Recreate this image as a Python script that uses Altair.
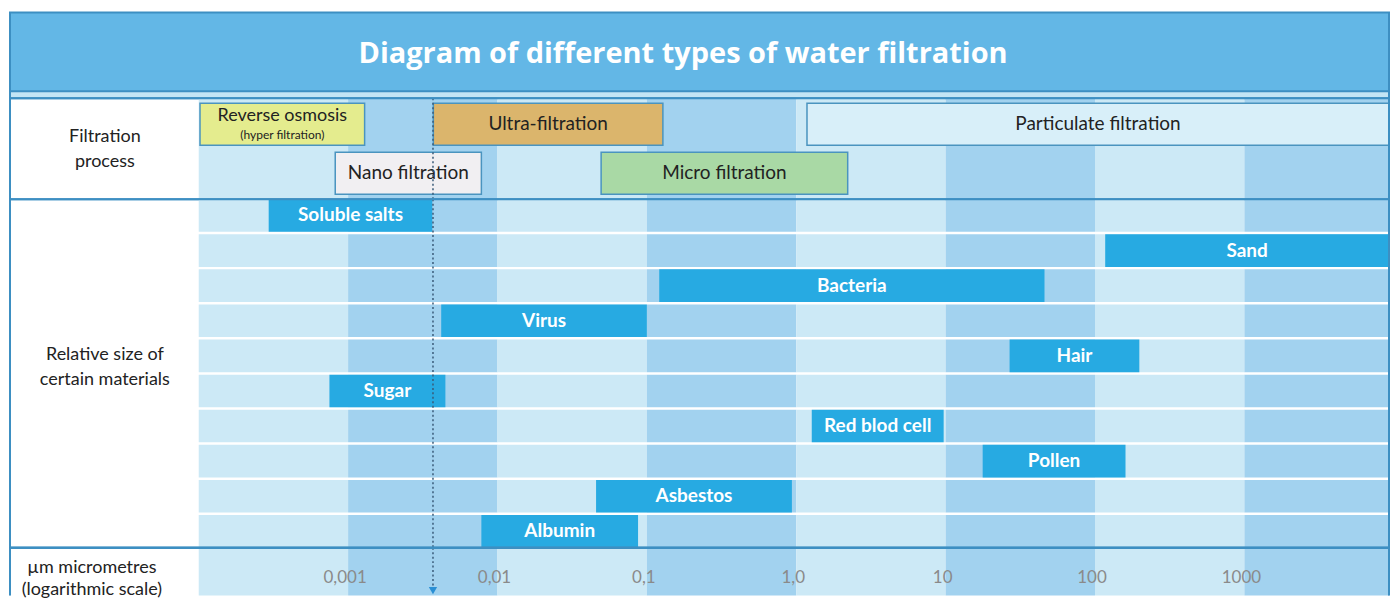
import altair as alt
import pandas as pd

# ---------------- data ----------------
title_text = "Diagram of different types of water filtration"

materials = ["Soluble salts", "Sand", "Bacteria", "Virus", "Hair", "Sugar",
             "Red blod cell", "Pollen", "Asbestos", "Albumin"]
mat_start = [0.000294, 117, 0.121, 0.0042, 26.8, 0.00075, 1.27, 17.7, 0.0457, 0.0078]
mat_end = [0.00366, 9290, 45.9, 0.1, 198, 0.00448, 9.7, 160, 0.935, 0.0873]

processes = ["Reverse osmosis", "Ultra-filtration", "Particulate filtration",
             "Nano filtration", "Micro filtration"]
proc_sub = ["(hyper filtration)", "", "", "", ""]
proc_row = ["1", "1", "1", "2", "2"]
proc_start = [0.000102, 0.00372, 1.18, 0.00082, 0.0494]
proc_end = [0.00129, 0.128, 9290, 0.0078, 2.21]

decade_start = [1e-4, 1e-3, 1e-2, 0.1, 1, 10, 100, 1000]
decade_end = [1e-3, 1e-2, 0.1, 1, 10, 100, 1000, 9290]
decade_shade = ["light", "dark", "light", "dark", "light", "dark", "light", "dark"]

tick_values = [0.001, 0.01, 0.1, 1, 10, 100, 1000]
tick_labels = ["0,001", "0,01", "0,1", "1,0", "10", "100", "1000"]

marker_values = [0.0037]

left_labels_process = ["Filtration", "process"]
left_labels_materials = ["Relative size of", "certain materials"]
left_labels_axis = ["\u00b5m micrometres", "(logarithmic scale)"]

# ---------------- styles ----------------
W = 1192
LEFT = -189
BORDER = "#3d8fc2"
BANNER = "#63b7e6"
STRIP = "#c3e5f5"
LIGHT = "#cce9f6"
DARK = "#a2d2ef"
BAR = "#27aae2"
PROC_COLORS = ["#e4ec8e", "#dbb56c", "#d8eff9", "#f1eff2", "#a9d9a5"]
FONT = "Lato"

H_BANNER, H_PROC, H_MAT, H_AXIS = 86, 101, 349, 48

xscale = alt.Scale(type="log", domain=[1e-4, 9290], nice=False)
shade_scale = alt.Scale(domain=["light", "dark"], range=[LIGHT, DARK])

one = alt.Data(values=[{}])

dec_df = pd.DataFrame({"start": decade_start, "end": decade_end, "shade": decade_shade})
mat_df = pd.DataFrame({"material": materials, "start": mat_start, "end": mat_end})
proc_df = pd.DataFrame({"process": processes, "sub": proc_sub, "row": proc_row,
                        "start": proc_start, "end": proc_end})
tick_df = pd.DataFrame({"value": tick_values, "label": tick_labels})
marker_df = pd.DataFrame({"value": marker_values})
cells_df = pd.DataFrame([
    {"material": m, "start": s, "end": e, "shade": sh}
    for m in materials
    for s, e, sh in zip(decade_start, decade_end, decade_shade)
])


def frame(h, bottom=True):
    if bottom:
        return alt.Chart(one).mark_rect(fill="transparent", stroke=BORDER, strokeWidth=2).encode(
            x=alt.value(LEFT), x2=alt.value(W), y=alt.value(0), y2=alt.value(h))
    left = alt.Chart(one).mark_rule(color=BORDER, strokeWidth=2).encode(
        x=alt.value(LEFT), y=alt.value(0), y2=alt.value(h))
    right = alt.Chart(one).mark_rule(color=BORDER, strokeWidth=2).encode(
        x=alt.value(W), y=alt.value(0), y2=alt.value(h))
    top = alt.Chart(one).mark_rule(color=BORDER, strokeWidth=2.5).encode(
        x=alt.value(LEFT), x2=alt.value(W), y=alt.value(0))
    return alt.layer(left, right, top)


def columns(h):
    return alt.Chart(dec_df).mark_rect().encode(
        x=alt.X("start:Q", scale=xscale, axis=None),
        x2="end:Q",
        y=alt.value(0), y2=alt.value(h),
        color=alt.Color("shade:N", scale=shade_scale, legend=None))


def marker(h, y2=None):
    return alt.Chart(marker_df).mark_rule(color="#3a5a78", strokeWidth=1.5, strokeDash=[2, 2.5]).encode(
        x=alt.X("value:Q", scale=xscale, axis=None),
        y=alt.value(0), y2=alt.value(h if y2 is None else y2))


def left_label(lines, y, x=-94, lh=25):
    return alt.Chart(one).mark_text(font=FONT, fontSize=18, color="#222222", align="center",
                                    baseline="middle", lineHeight=lh).encode(
        x=alt.value(x), y=alt.value(y), text=alt.value(lines))


# ---------------- banner ----------------
banner = alt.layer(
    alt.Chart(one).mark_rect(fill=BANNER).encode(
        x=alt.value(LEFT), x2=alt.value(W), y=alt.value(0), y2=alt.value(79)),
    alt.Chart(one).mark_rect(fill=STRIP).encode(
        x=alt.value(LEFT), x2=alt.value(W), y=alt.value(79), y2=alt.value(H_BANNER)),
    alt.Chart(one).mark_rule(color=BORDER, strokeWidth=2).encode(
        x=alt.value(LEFT), x2=alt.value(W), y=alt.value(79)),
    alt.Chart(one).mark_text(font="Open Sans", fontWeight="bold", fontSize=29, color="white",
                             align="center", baseline="middle").encode(
        x=alt.value(485), y=alt.value(42), text=alt.value(title_text)),
    frame(H_BANNER),
).properties(width=W, height=H_BANNER)

# ---------------- filtration process ----------------
row_y = alt.Y("row:N", scale=alt.Scale(domain=["1", "2"], paddingInner=0.14, paddingOuter=0.1), axis=None)
proc_base = alt.Chart(proc_df).transform_calculate(mid="sqrt(datum.start * datum.end)")

boxes = alt.Chart(proc_df).mark_rect(stroke="#4a94bf", strokeWidth=1.5).encode(
    x=alt.X("start:Q", scale=xscale, axis=None),
    x2="end:Q",
    y=row_y,
    fill=alt.Fill("process:N", scale=alt.Scale(domain=processes, range=PROC_COLORS), legend=None))

proc_text = proc_base.transform_filter("datum.sub == ''").mark_text(
    font=FONT, fontSize=19, color="#222222", baseline="middle").encode(
    x=alt.X("mid:Q", scale=xscale, axis=None), y=row_y, text="process:N")
proc_text2 = proc_base.transform_filter("datum.sub != ''").mark_text(
    font=FONT, fontSize=18, color="#222222", baseline="middle", dy=-8).encode(
    x=alt.X("mid:Q", scale=xscale, axis=None), y=row_y, text="process:N")
proc_sub_text = proc_base.transform_filter("datum.sub != ''").mark_text(
    font=FONT, fontSize=12, color="#222222", baseline="middle", dy=11).encode(
    x=alt.X("mid:Q", scale=xscale, axis=None), y=row_y, text="sub:N")

process = alt.layer(
    columns(H_PROC), boxes, proc_text, proc_text2, proc_sub_text, marker(H_PROC),
    left_label(left_labels_process, 39), frame(H_PROC),
).properties(width=W, height=H_PROC).resolve_scale(color="independent", fill="independent")

# ---------------- materials ----------------
mat_y = alt.Y("material:N", sort=materials,
              scale=alt.Scale(domain=materials, paddingInner=0.07, paddingOuter=0), axis=None)

cells = alt.Chart(cells_df).mark_rect().encode(
    x=alt.X("start:Q", scale=xscale, axis=None), x2="end:Q", y=mat_y,
    color=alt.Color("shade:N", scale=shade_scale, legend=None))
bars = alt.Chart(mat_df).mark_rect(color=BAR).encode(
    x=alt.X("start:Q", scale=xscale, axis=None), x2="end:Q", y=mat_y)
bar_text = alt.Chart(mat_df).transform_calculate(mid="sqrt(datum.start * datum.end)").mark_text(
    font=FONT, fontWeight="bold", fontSize=19, color="white", baseline="middle").encode(
    x=alt.X("mid:Q", scale=xscale, axis=None), y=mat_y, text="material:N")

mats = alt.layer(
    cells, bars, bar_text, marker(H_MAT),
    left_label(left_labels_materials, 156), frame(H_MAT),
).properties(width=W, height=H_MAT)

# ---------------- axis ----------------
tick_text = alt.Chart(tick_df).mark_text(font=FONT, fontSize=17, color="#8a8a8a",
                                         baseline="middle", align="center", dx=-3).encode(
    x=alt.X("value:Q", scale=xscale, axis=None), y=alt.value(30), text="label:N")
arrow = alt.Chart(marker_df).mark_point(shape="triangle-down", filled=True, color="#2a8fd4",
                                        size=70, opacity=1).encode(
    x=alt.X("value:Q", scale=xscale, axis=None), y=alt.value(43))

axisp = alt.layer(
    columns(H_AXIS), tick_text, marker(H_AXIS, 40), arrow,
    left_label(left_labels_axis, 20, x=-107, lh=22), frame(H_AXIS, bottom=False),
).properties(width=W, height=H_AXIS)

chart = alt.vconcat(banner, process, mats, axisp, spacing=0, bounds="flush").resolve_scale(
    x="independent", y="independent", color="independent"
).properties(
    padding={"top": 3, "left": 0, "right": 0, "bottom": 0}
).configure_view(strokeWidth=0)

chart.save("out.html", embed_options={"renderer": "svg", "actions": False})
